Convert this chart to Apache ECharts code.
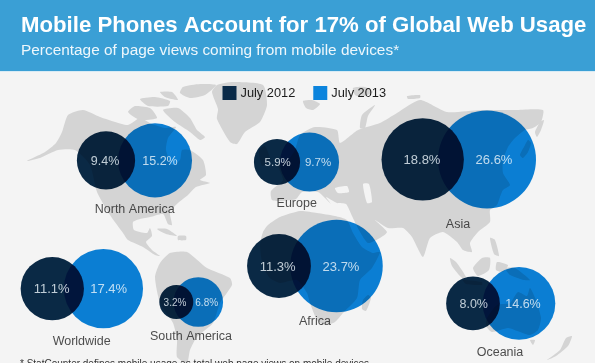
<!DOCTYPE html>
<html><head><meta charset="utf-8">
<style>html,body{margin:0;padding:0;background:#f4f4f4;overflow:hidden}#c{width:595px;height:363px}</style>
<script src="https://cdn.jsdelivr.net/npm/echarts@6/dist/echarts.min.js"></script>
</head><body><div id="c"></div>
<script>
const regions = ['North America','Europe','Asia','Africa','Worldwide','South America','Oceania'];
const july2012 = [9.4,5.9,18.8,11.3,11.1,3.2,8.0];
const july2013 = [15.2,9.7,26.6,23.7,17.4,6.8,14.6];

// Layout, kept apart from the data
const cx2012 = [106,277,422.7,279,52.3,176.3,473];
const cx2013 = [155,309.5,487,336.5,103.4,198.3,519];
const cy = [160.4,162,159.4,266,288.7,302,303.4];
const tx2012 = [105,277.7,422,277.7,51.7,175,473.7];
const tx2013 = [160,318,494,341,108.7,206.7,523];
const labelFont = [12.5,11.5,13,13,13,10,12.5];
const nameX = [134.7,296.7,458,315,81.7,191,500];
const nameY = [210,204,225,321.5,342,337,353];
const radiusPerRootPct = 9.5;
const font = 'Liberation Sans';

const land = [
 // North America
 [[27,161],[45,152],[56,143],[62,132],[68,115],[83,110],[100,117],[115,122],[128,125],[140,118],[152,124],[165,128],[176,127],[168,138],[166,150],[172,165],[180,160],[182,150],[190,150],[203,160],[206,175],[200,180],[210,183],[196,187],[188,195],[178,203],[170,212],[172,225],[168,224],[163,214],[150,217],[140,219],[133,222],[134,230],[147,233],[150,228],[152,236],[146,242],[152,250],[160,256],[155,255],[143,247],[128,240],[123,233],[110,215],[97,192],[90,165],[75,150],[58,150],[40,158]],
 // Arctic islands and Baffin
 [[128,112],[135,106],[150,108],[157,118],[140,120]],
 [[140,99],[155,97],[170,101],[168,106],[148,106]],
 [[160,92],[172,92],[178,100],[165,97]],
 [[183,87],[200,84],[216,85],[205,95],[190,98],[180,93]],
 [[163,110],[178,108],[190,118],[197,130],[205,137],[200,140],[190,132],[175,122]],
 [[157,229],[167,229],[177,236],[166,234]],
 [[178,236],[186,236],[186,240],[178,240]],
 // Greenland
 [[217,85],[233,82],[263,85],[267,105],[260,122],[245,132],[237,144],[230,142],[217,119],[218,109],[212,92]],
 // Iceland, Svalbard, Novaya Zemlya
 [[303,101],[312,100],[320,104],[313,110],[306,108]],
 [[353,88],[365,87],[373,92],[362,97],[355,95]],
 [[360,128],[362,115],[375,105],[368,116],[365,128]],
 [[407,96],[420,95],[420,98],[408,99]],
 // UK
 [[259,150],[265,146],[270,160],[262,166]],
 // South America
 [[160,263],[170,253],[187,252],[207,268],[230,278],[232,285],[220,303],[213,323],[197,337],[190,350],[187,363],[177,357],[177,340],[173,323],[160,303],[155,277]],
 // Eurasia
 [[271,191],[283,180],[278,165],[288,160],[295,150],[300,135],[315,127],[337,130],[340,143],[358,130],[380,123],[397,113],[420,100],[447,112],[480,110],[517,110],[543,110],[541,122],[533,128],[525,130],[515,138],[508,147],[503,160],[503,173],[510,185],[503,190],[500,197],[497,205],[490,210],[490,222],[478,232],[470,243],[472,252],[463,250],[457,242],[443,232],[430,238],[423,257],[412,237],[403,228],[388,228],[375,220],[387,232],[380,238],[368,243],[360,232],[352,216],[346,204],[337,203],[326,197],[331,204],[318,192],[302,192],[296,199],[282,201],[272,200]],
 // Japan
 [[520,155],[525,145],[528,140],[531,143],[528,152],[523,158]],
 // Kamchatka
 [[535,132],[540,122],[544,120],[541,130],[537,137]],
 // Africa
 [[263,232],[268,225],[280,217],[300,211],[317,213],[335,216],[347,220],[353,233],[362,247],[373,253],[380,252],[372,268],[360,280],[357,298],[343,313],[335,322],[325,325],[317,320],[310,303],[307,293],[297,280],[280,283],[270,278],[263,267],[260,245]],
 [[363,300],[368,295],[371,298],[366,311],[362,309]],
 // Islands of south-east Asia and Oceania
 [[450,258],[456,262],[466,277],[462,278],[452,266]],
 [[463,280],[482,282],[482,285],[466,284]],
 [[473,268],[482,258],[490,258],[489,270],[478,276]],
 [[490,238],[495,240],[499,256],[494,254]],
 [[497,262],[508,265],[503,272],[496,270]],
 [[505,268],[515,268],[530,280],[524,280],[510,275]],
 // Australia
 [[487,318],[497,305],[510,303],[518,292],[527,296],[530,288],[536,300],[541,318],[538,330],[530,335],[520,332],[508,328],[492,332],[486,326]],
 [[530,340],[535,340],[533,345]],
 // New Zealand
 [[547,360],[560,350],[566,338],[572,336],[568,346],[556,356]]
];
const seas = [
 [[335,188],[347,186],[349,192],[338,193]],
 [[363,184],[369,184],[372,202],[367,203]]
];

const chart = echarts.init(document.getElementById('c'), null, {renderer:'canvas'});
const poly = (pts, fill) => ({type:'polygon', silent:true, z:0, shape:{points:pts, smooth:0.2}, style:{fill}});
const bubbleSize = d => 2 * radiusPerRootPct * Math.sqrt(d[2]);
const textSeries = (name, rows, styleFn) => ({
  name, type:'scatter', symbolSize:0, silent:true, z:5, data:rows,
  label:{show:true, position:'inside', fontFamily:font, formatter:p=>p.data.text, ...styleFn}
});

chart.setOption({
  animation:false,
  backgroundColor:'#f4f4f4',
  grid:{left:0,right:0,top:0,bottom:0},
  xAxis:{type:'value',min:0,max:595,show:false},
  yAxis:{type:'value',min:0,max:363,inverse:true,show:false},
  title:[
    {text:'Mobile Phones Account for 17% of Global Web Usage',left:21,top:15,padding:0,
     textStyle:{color:'#fff',fontFamily:font,fontWeight:'bold',fontSize:22.2}},
    {text:'Percentage of page views coming from mobile devices*',left:21,top:43,padding:0,
     textStyle:{color:'#eef7fc',fontFamily:font,fontWeight:'normal',fontSize:15.4}}
  ],
  legend:{left:222.5,top:86,padding:0,itemWidth:14,itemHeight:14,itemGap:18,
    data:['July 2012','July 2013'],icon:'rect',selectedMode:false,
    textStyle:{color:'#1c1c1c',fontFamily:font,fontSize:12.8,padding:[1,0,0,-1]}},
  graphic:[
    {type:'rect',silent:true,z:0,shape:{x:0,y:0,width:595,height:71},style:{fill:'#3a9fd5'}},
    {type:'rect',silent:true,z:0,shape:{x:0,y:71,width:595,height:1},style:{fill:'#d8ebf5'}},
    ...land.map(p=>poly(p,'#d4d4d4')),
    ...seas.map(p=>poly(p,'#f4f4f4')),
    {type:'text',silent:true,z:1,x:20,y:359,style:{text:'* StatCounter defines mobile usage as total web page views on mobile devices',
      fill:'#333',font:'10px '+font}}
  ],
  series:[
    {name:'July 2013',type:'scatter',z:2,blendMode:'multiply',symbolSize:bubbleSize,
     itemStyle:{color:'#0b84dd',opacity:1},
     data:july2013.map((v,i)=>[cx2013[i],cy[i],v])},
    {name:'July 2012',type:'scatter',z:3,blendMode:'multiply',symbolSize:bubbleSize,
     itemStyle:{color:'#0a2a48',opacity:1},
     data:july2012.map((v,i)=>[cx2012[i],cy[i],v])},
    textSeries('labels2012',july2012.map((v,i)=>({value:[tx2012[i],cy[i]+1,v],text:v.toFixed(1)+'%',label:{fontSize:labelFont[i]}})),{color:'#eef6fb'}),
    textSeries('labels2013',july2013.map((v,i)=>({value:[tx2013[i],cy[i]+1,v],text:v.toFixed(1)+'%',label:{fontSize:labelFont[i]}})),{color:'#eef6fb'}),
    textSeries('names',regions.map((r,i)=>({value:[nameX[i],nameY[i]],text:r})),{color:'#222',fontSize:12.5})
  ]
});
</script></body></html>
